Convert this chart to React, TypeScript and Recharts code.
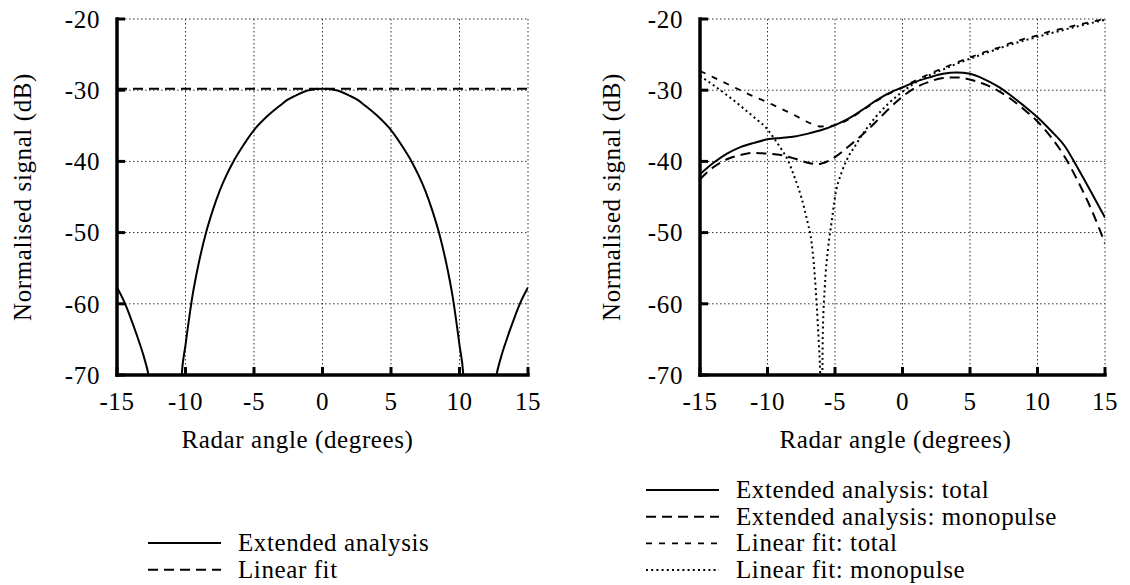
import { LineChart, Line, XAxis, YAxis, CartesianGrid } from "recharts";

// ---- data ----
const X_TICKS = [-15, -10, -5, 0, 5, 10, 15];
const Y_TICKS = [-70, -60, -50, -40, -30, -20];

// left panel: extended analysis (main lobe + side lobes), linear fit
const L_SIDE_LEFT_X = [-15, -14.5, -14, -13.5, -13, -12.7, -12.5];
const L_SIDE_LEFT_Y = [-57.7, -59.6, -62.0, -64.7, -67.7, -70, -72.5];
const L_MAIN_X = [-10.45, -10.28, -10, -9.5, -9, -8.5, -8, -7.5, -7, -6.5, -6, -5, -4, -3, -2.6, -2, -1, 0, 1, 2, 2.6, 3, 4, 5, 6, 6.5, 7, 7.5, 8, 8.5, 9, 9.5, 10, 10.28, 10.45];
const L_MAIN_Y = [-76, -70, -65.8, -59.0, -54.0, -50.0, -46.8, -44.1, -41.9, -40.0, -38.4, -35.6, -33.6, -32.0, -31.4, -30.8, -30.0, -29.8, -30.0, -30.8, -31.4, -32.0, -33.6, -35.6, -38.4, -40.0, -41.9, -44.1, -46.8, -50.0, -54.0, -59.0, -65.8, -70, -76];
const L_SIDE_RIGHT_X = [12.5, 12.7, 13, 13.5, 14, 14.5, 15];
const L_SIDE_RIGHT_Y = [-72.5, -70, -67.7, -64.7, -62.0, -59.6, -57.7];
const L_FIT_X = [-15, 15];
const L_FIT_Y = [-29.8, -29.8];

// right panel
const R_EXT_TOTAL_X = [-15, -14, -13, -12, -11, -10, -9, -8, -7, -6, -5, -4, -3, -2, -1, 0, 1, 2, 3, 4, 5, 6, 7, 8, 9, 10, 11, 12, 13, 14, 15];
const R_EXT_TOTAL_Y = [-41.8, -40.2, -38.9, -38.0, -37.4, -36.9, -36.7, -36.5, -36.1, -35.6, -34.9, -34.0, -32.8, -31.5, -30.4, -29.6, -28.8, -28.2, -27.7, -27.5, -27.7, -28.4, -29.4, -30.7, -32.2, -33.8, -35.7, -37.8, -41.0, -44.4, -47.9];
const R_EXT_MONO_X = [-15, -14, -13, -12, -11, -10, -9, -8, -7, -6.3, -6, -5, -4, -3, -2, -1, 0, 1, 2, 3, 4, 5, 6, 7, 8, 9, 10, 11, 12, 13, 14, 15];
const R_EXT_MONO_Y = [-42.5, -40.8, -39.7, -39.1, -38.8, -38.9, -39.1, -39.6, -40.2, -40.4, -40.3, -39.4, -37.9, -36.3, -34.5, -32.6, -30.9, -29.6, -28.8, -28.3, -28.2, -28.5, -29.1, -30.0, -31.2, -32.7, -34.4, -36.6, -39.3, -42.8, -46.8, -51.5];
const R_FIT_TOTAL_X = [-15, -14, -13, -12, -11, -10, -9, -8, -7, -6, -5, -4, -3, -2, -1, 0, 1, 2, 3, 4, 5, 6, 7, 8, 9, 10, 11, 12, 13, 14, 15];
const R_FIT_TOTAL_Y = [-27.3, -28.2, -29.1, -30.0, -30.9, -31.7, -32.6, -33.5, -34.5, -35.1, -34.9, -34.1, -32.9, -31.6, -30.5, -29.6, -28.6, -27.7, -26.9, -26.1, -25.4, -24.7, -24.1, -23.4, -22.8, -22.3, -21.7, -21.3, -20.8, -20.4, -20.0];
const R_FIT_MONO_DOWN_X = [-15, -14, -13, -12, -11, -10, -9.5, -9, -8.5, -8, -7.5, -7, -6.8, -6.5, -6.36, -6.2, -6.1, -6.05];
const R_FIT_MONO_DOWN_Y = [-28.0, -29.3, -30.7, -32.2, -33.8, -35.5, -36.8, -38.2, -39.8, -42.2, -45.0, -48.8, -50.5, -56.0, -60.0, -65.5, -69.5, -73];
const R_FIT_MONO_UP_X = [-5.95, -5.9, -5.75, -5.5, -5.25, -5, -4.5, -4, -3.5, -3, -2.5, -2, -1, 0, 1, 2, 3, 4, 6, 8, 10, 12, 15];
const R_FIT_MONO_UP_Y = [-73, -64, -57.5, -52.0, -48.5, -45.0, -41.5, -39.3, -37.8, -36.3, -35.0, -33.8, -31.8, -30.2, -28.9, -27.9, -27.1, -26.3, -24.9, -23.6, -22.5, -21.5, -20.1];

const LEFT_LEGEND = ["Extended analysis", "Linear fit"];
const RIGHT_LEGEND = [
  "Extended analysis: total",
  "Extended analysis: monopulse",
  "Linear fit: total",
  "Linear fit: monopulse",
];

const FONT = "Liberation Serif, DejaVu Serif, serif";
const FS = 25;

const SOLID = { strokeDasharray: undefined as string | undefined, strokeWidth: 2 };
const LONGDASH = { strokeDasharray: "10 6", strokeWidth: 2 };
const SHORTDASH = { strokeDasharray: "6 7", strokeWidth: 1.8 };
const DOTTED = { strokeDasharray: "2 3.2", strokeWidth: 2 };

const zip = (xs: number[], ys: number[]) => xs.map((x, i) => ({ x, y: ys[i] }));

const textStyle = { fontFamily: FONT, fontSize: FS, letterSpacing: 0.6 };
const tickFont = { fill: "#000", fontSize: FS, fontFamily: FONT, style: textStyle };
const axisLine = { stroke: "#000", strokeWidth: 3.5, strokeLinecap: "square" as const };
const tickLine = { stroke: "#000", strokeWidth: 3 };

function Panel({
  width,
  yTitleOffset,
  xTitleDx,
  series,
}: {
  width: number;
  yTitleOffset: number;
  xTitleDx: number;
  series: { data: { x: number; y: number }[]; style: typeof SOLID }[];
}) {
  const yAxisW = width === 560 ? 117 : 140;
  const rightM = width === 560 ? 32 : 25;
  return (
    <LineChart
      width={width}
      height={470}
      margin={{ top: 19, right: rightM, bottom: 0, left: 0 }}
      style={{ fontFamily: FONT }}
    >
      <CartesianGrid stroke="#333" strokeDasharray="1.5 2.5" strokeWidth={1} />
      <XAxis
        dataKey="x"
        type="number"
        domain={[-15, 15]}
        ticks={X_TICKS}
        interval={0}
        height={95}
        tickSize={-8}
        tickMargin={25}
        tick={tickFont}
        axisLine={axisLine}
        tickLine={tickLine}
        allowDataOverflow
        label={{
          value: "Radar angle (degrees)",
          position: "insideTop",
          offset: 55,
          dx: xTitleDx,
          style: { ...textStyle, fill: "#000" },
        }}
      />
      <XAxis
        xAxisId="top"
        orientation="top"
        type="number"
        domain={[-15, 15]}
        ticks={X_TICKS}
        interval={0}
        height={0}
        tickSize={-8}
        tickFormatter={() => ""}
        axisLine={axisLine}
        tickLine={tickLine}
      />
      <YAxis
        type="number"
        domain={[-70, -20]}
        ticks={Y_TICKS}
        interval={0}
        width={yAxisW}
        tickSize={-8}
        tickMargin={25}
        tick={tickFont}
        axisLine={axisLine}
        tickLine={tickLine}
        allowDataOverflow
        label={{
          value: "Normalised signal (dB)",
          angle: -90,
          position: "insideLeft",
          offset: yTitleOffset,
          style: { ...textStyle, textAnchor: "middle", fill: "#000" },
        }}
      />
      <YAxis
        yAxisId="right"
        orientation="right"
        type="number"
        domain={[-70, -20]}
        ticks={Y_TICKS}
        interval={0}
        width={0}
        tickSize={-8}
        tickFormatter={() => ""}
        axisLine={axisLine}
        tickLine={tickLine}
      />
      {series.map((s, i) => (
        <Line
          key={i}
          data={s.data}
          dataKey="y"
          type="monotone"
          stroke="#000"
          strokeWidth={s.style.strokeWidth}
          strokeDasharray={s.style.strokeDasharray}
          dot={false}
          activeDot={false}
          isAnimationActive={false}
        />
      ))}
    </LineChart>
  );
}

function LegendBlock({
  x,
  y0,
  labels,
  styles,
}: {
  x: number;
  y0: number;
  labels: string[];
  styles: (typeof SOLID)[];
}) {
  return (
    <g>
      {labels.map((lab, i) => {
        const y = y0 + i * 26.7;
        return (
          <g key={lab}>
            <line
              x1={x}
              x2={x + 73}
              y1={y}
              y2={y}
              stroke="#000"
              strokeWidth={styles[i].strokeWidth}
              strokeDasharray={styles[i].strokeDasharray}
            />
            <text x={x + 90} y={y + 8} fill="#000" style={textStyle}>
              {lab}
            </text>
          </g>
        );
      })}
    </g>
  );
}

export default function App() {
  const leftSeries = [
    { data: zip(L_SIDE_LEFT_X, L_SIDE_LEFT_Y), style: SOLID },
    { data: zip(L_MAIN_X, L_MAIN_Y), style: SOLID },
    { data: zip(L_SIDE_RIGHT_X, L_SIDE_RIGHT_Y), style: SOLID },
    { data: zip(L_FIT_X, L_FIT_Y), style: LONGDASH },
  ];
  const rightSeries = [
    { data: zip(R_EXT_TOTAL_X, R_EXT_TOTAL_Y), style: SOLID },
    { data: zip(R_EXT_MONO_X, R_EXT_MONO_Y), style: LONGDASH },
    { data: zip(R_FIT_TOTAL_X, R_FIT_TOTAL_Y), style: SHORTDASH },
    { data: zip(R_FIT_MONO_DOWN_X, R_FIT_MONO_DOWN_Y), style: DOTTED },
    { data: zip(R_FIT_MONO_UP_X, R_FIT_MONO_UP_Y), style: DOTTED },
  ];
  return (
    <div
      style={{
        position: "absolute",
        left: 0,
        top: 0,
        width: 1130,
        height: 585,
        background: "#fff",
        overflow: "hidden",
        fontFamily: FONT,
      }}
    >
      <div style={{ position: "absolute", left: 0, top: 0 }}>
        <Panel width={560} yTitleOffset={22} xTitleDx={-25} series={leftSeries} />
      </div>
      <div style={{ position: "absolute", left: 560, top: 0 }}>
        <Panel width={570} yTitleOffset={51} xTitleDx={-7} series={rightSeries} />
      </div>
      <svg
        width={1130}
        height={585}
        style={{ position: "absolute", left: 0, top: 0, pointerEvents: "none" }}
      >
        <LegendBlock x={148} y0={543} labels={LEFT_LEGEND} styles={[SOLID, LONGDASH]} />
        <LegendBlock
          x={646}
          y0={490}
          labels={RIGHT_LEGEND}
          styles={[SOLID, LONGDASH, SHORTDASH, DOTTED]}
        />
      </svg>
    </div>
  );
}
